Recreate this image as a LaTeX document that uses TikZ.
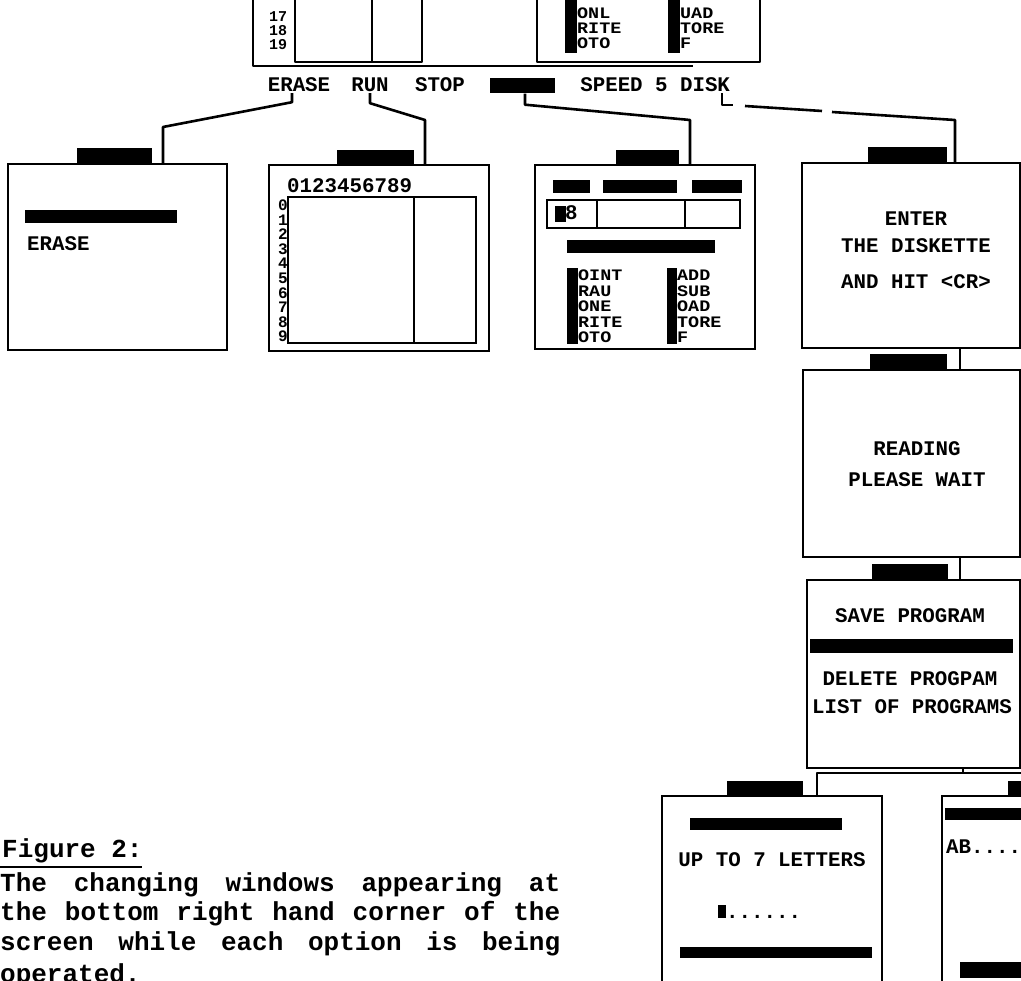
\documentclass[tikz,border=0pt]{standalone}
\usepackage{fontspec}
\usetikzlibrary{positioning,calc}
\newfontfamily\scrfont{Liberation Mono}
\newfontfamily\listfont{Liberation Mono}[FakeStretch=1.15]
\newfontfamily\capfont{Liberation Mono}

\begin{document}
\begin{tikzpicture}[x=1pt,y=-1pt,
    win/.style={draw,line width=2.6pt,anchor=north west,inner sep=0pt,outer sep=0pt},
    tab/.style={fill=black,inner sep=0pt,outer sep=0pt,anchor=south west},
    scr/.style={font=\scrfont\bfseries\fontsize{20.8}{24}\selectfont,text height=12pt,text depth=0pt,inner sep=1pt},
    scrlist/.style={font=\listfont\bfseries\fontsize{16}{15.5}\selectfont,align=left,inner sep=0pt,anchor=north west},
    captext/.style={font=\capfont\bfseries\fontsize{26}{29.5}\selectfont,inner sep=0pt,anchor=base west},
    link/.style={line width=2.6pt,line join=round}]
  \useasboundingbox (0,0) rectangle (1021,981);
  \clip (0,0) rectangle (1021,981);
  \fill[white] (0,0) rectangle (1021,981);

  % bottom of the main screen
  \draw[link] (253,-5) -- (253,66) -- (693,66);
  \draw[link] (295,-5) -- (295,62) -- (422,62) -- (422,-5);
  \draw[link] (372,-5) -- (372,62);
  \draw[link] (537,-5) -- (537,62) -- (760,62) -- (760,-5);
  \node[scrlist,font=\scrfont\bfseries\fontsize{15}{14}\selectfont,align=center,anchor=north] (lines) at (278,11) {17\\18\\19};
  \fill (565,-2) rectangle (577,53);
  \fill (668,-2) rectangle (680,53);
  \node[scrlist,font=\listfont\bfseries\fontsize{16}{15}\selectfont] (cmdTopA) at (577,8) {ONL\\RITE\\OTO};
  \node[scrlist,font=\listfont\bfseries\fontsize{16}{15}\selectfont] (cmdTopB) at (680,8) {UAD\\TORE\\F};

  % menu line
  \node[scr] (mErase) at (299,86) {ERASE};
  \node[scr] (mRun) at (370,86) {RUN};
  \node[scr] (mStop) at (440,86) {STOP};
  \node[fill=black,minimum width=65,minimum height=15,inner sep=0pt] (mMode) at (522,86) {};
  \node[scr] (mSpeed) at (624,86) {SPEED 5};
  \node[scr] (mDisk) at (705,86) {DISK};

  % erase window
  \node[win,minimum width=219,minimum height=186] (wErase) at (8,164) {};
  \node[tab,minimum width=75,minimum height=16] (tErase) at (77,164) {};
  \fill (25,210) rectangle (177,223);
  \node[scr,anchor=west] (eA) at (26,245) {ERASE};

  % run window
  \node[win,minimum width=220,minimum height=186] (wRun) at (269,165) {};
  \node[tab,minimum width=77,minimum height=15] (tRun) at (337,165) {};
  \node[scr,anchor=west,inner sep=0pt] (gCols) at (287,187) {0123456789};
  \draw[line width=2.2pt] (288,197) rectangle (476,343);
  \draw[line width=2.2pt] (414,197) -- (414,343);
  \node[scrlist,font=\scrfont\bfseries\fontsize{16}{14.6}\selectfont,align=center,anchor=north] (gRows) at (283,199.5) {0\\1\\2\\3\\4\\5\\6\\7\\8\\9};

  % mode window
  \node[win,minimum width=220,minimum height=184] (wMode) at (535,165) {};
  \node[tab,minimum width=63,minimum height=15] (tMode) at (616,165) {};
  \fill (553,180) rectangle (590,193);
  \fill (603,180) rectangle (677,193);
  \fill (692,180) rectangle (742,193);
  \draw[line width=2.2pt] (547,200) rectangle (740,228);
  \draw[line width=2.2pt] (597,200) -- (597,228) (685,200) -- (685,228);
  \fill (555,206) rectangle (566,222);
  \node[scr,anchor=west,inner sep=0pt] (cell) at (565,214) {8};
  \fill (567,240) rectangle (715,253);
  \fill (567,268) rectangle (578,344);
  \fill (667,268) rectangle (677,344);
  \node[scrlist] (cmdA) at (578,270) {OINT\\RAU\\ONE\\RITE\\OTO};
  \node[scrlist] (cmdB) at (677,270) {ADD\\SUB\\OAD\\TORE\\F};

  % disk windows
  \node[win,minimum width=218,minimum height=185] (wDisk) at (802,163) {};
  \node[tab,minimum width=79,minimum height=16] (tDisk) at (868,163) {};
  \node[scr] (dA) at (916,220) {ENTER};
  \node[scr] (dB) at (916,247) {THE DISKETTE};
  \node[scr] (dC) at (916,283) {AND HIT <CR>};

  \node[win,minimum width=217,minimum height=187] (wRead) at (803,370) {};
  \node[tab,minimum width=77,minimum height=16] (tRead) at (870,370) {};
  \node[scr] (rA) at (917,450) {READING};
  \node[scr] (rB) at (917,481) {PLEASE WAIT};

  \node[win,minimum width=213,minimum height=188] (wMenu) at (807,580) {};
  \node[tab,minimum width=76,minimum height=16] (tMenu) at (872,580) {};
  \node[scr] (sA) at (910,617) {SAVE PROGRAM};
  \fill (810,639) rectangle (1013,653);
  \node[scr] (sB) at (910,679) {DELETE PROGPAM};
  \node[scr] (sC) at (912,707) {LIST OF PROGRAMS};

  \node[win,minimum width=220,minimum height=220] (wName) at (662,796) {};
  \node[tab,minimum width=76,minimum height=15] (tName) at (727,796) {};
  \fill (690,818) rectangle (842,830);
  \node[scr] (nA) at (772,860) {UP TO 7 LETTERS};
  \fill (718,905) rectangle (726,918);
  \node[scr,anchor=west,inner sep=0pt] (nB) at (726,912) {......};
  \fill (680,947) rectangle (872,958);

  \node[win,minimum width=220,minimum height=220] (wList) at (942,796) {};
  \node[tab,minimum width=30,minimum height=15] (tList) at (1008,796) {};
  \fill (945,808) rectangle (1030,820);
  \node[scr,anchor=west,inner sep=0pt] (lA) at (946,847) {AB....};
  \fill (960,962) rectangle (1030,978);

  % links from the menu
  \coordinate (kErase) at (163,127);
  \coordinate (kRun) at (425,120);
  \coordinate (kMode) at (690,120);
  \coordinate (kDiskA) at (745,106);
  \coordinate (kDiskB) at (822,111);
  \coordinate (kDiskC) at (832,112);
  \coordinate (kDisk) at (955,120);
  \draw[link] ([xshift=-7pt]mErase.south) -- ++(0,9) -- (kErase) -- (kErase |- wErase.north);
  \draw[link] (mRun.south) -- ++(0,10) -- (kRun) -- (kRun |- wRun.north);
  \draw[link] ([xshift=3pt]mMode.south) -- ++(0,11) -- (kMode) -- (kMode |- wMode.north);
  \draw[link] ([xshift=17pt]mDisk.south) -- ++(0,12) -- ++(11,0);
  \draw[link] (kDiskA) -- (kDiskB);
  \draw[link] (kDiskC) -- (kDisk) -- (kDisk |- wDisk.north);

  % links between the disk windows
  \coordinate (kRead) at (960,360);
  \coordinate (kSplit) at (963,773);
  \coordinate (kLeft) at (817,773);
  \coordinate (kRight) at (1030,773);
  \draw[link] (kRead |- wDisk.south) -- (kRead |- wRead.north);
  \draw[link] (kRead |- wRead.south) -- (kRead |- wMenu.north);
  \draw[link] (kSplit |- wMenu.south) -- (kSplit);
  \draw[link] (kRight) -- (kLeft) -- (kLeft |- wName.north);

  % caption
  \node[captext] (figNo) at (2,857) {Figure 2:};
  \draw[line width=1.6pt] (0,867) -- (142,867);
  \node[captext] (capA) at (0,891) {\makebox[560pt][s]{The changing windows appearing at}};
  \node[captext] (capB) at (0,920) {\makebox[560pt][s]{the bottom right hand corner of the}};
  \node[captext] (capC) at (0,950) {\makebox[560pt][s]{screen while each option is being}};
  \node[captext] (capD) at (0,982) {operated.};
\end{tikzpicture}
\end{document}
